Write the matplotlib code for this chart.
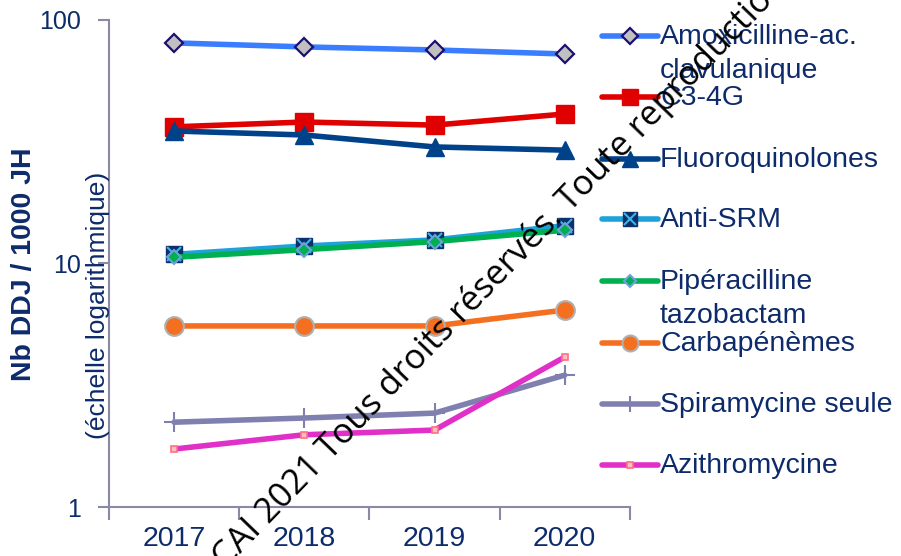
import matplotlib
matplotlib.use("Agg")
import matplotlib.pyplot as plt
from matplotlib.lines import Line2D
import numpy as np

years = ["2017", "2018", "2019", "2020"]
amoxi = [80.5, 77.5, 75.3, 72.5]
c34g = [36.4, 38.1, 37.0, 41.1]
fluoro = [35.0, 33.7, 30.1, 29.2]
anti_srm = [10.9, 11.8, 12.5, 14.3]
pip_tazo = [10.6, 11.4, 12.3, 13.7]
carba = [5.54, 5.54, 5.54, 6.44]
spira = [2.23, 2.32, 2.43, 3.48]
azithro = [1.73, 1.98, 2.07, 4.13]

labels = ["Amoxicilline-ac.\nclavulanique", "C3-4G", "Fluoroquinolones", "Anti-SRM",
          "Pipéracilline\ntazobactam", "Carbapénèmes", "Spiramycine seule", "Azithromycine"]
y_ticks = [1, 10, 100]
y_tick_labels = ["1", "10", "100"]

NAVY = "#0d2b6b"
SPINE = "#8a8aa6"

plt.rcParams['font.family'] = ['Liberation Sans', 'DejaVu Sans']

fig = plt.figure(figsize=(9.01, 5.56), dpi=100)
ax = fig.add_axes([0.121, 0.0881, 0.578, 0.876])

x = np.arange(len(years))
LW = 4.0
styles = [
    dict(color="#3a7dff", marker="D", ms=9, mfc="#c0c0c0", mec="#1c0f73", mew=1.6),
    dict(color="#e00000", marker="s", ms=13, mfc="#e00000", mec="#e00000", mew=1),
    dict(color="#00428a", marker="^", ms=13, mfc="#00428a", mec="#00428a", mew=1),
    dict(color="#1ea2da", marker="s", ms=11.5, mfc="#0d2f6b", mec="#0d2f6b", mew=1),
    dict(color="#00b050", marker="D", ms=7.5, mfc="#00b050", mec="#6fa0e0", mew=1.5),
    dict(color="#f47020", marker="o", ms=13.5, mfc="#f47020", mec="#b0b0b0", mew=1.5),
    dict(color="#8080b0", marker="+", ms=14, mfc="#8080b0", mec="#8080b0", mew=1.5),
    dict(color="#e030c8", marker="s", ms=5, mfc="#f8c0c0", mec="#ff7080", mew=1.2),
]
series = [amoxi, c34g, fluoro, anti_srm, pip_tazo, carba, spira, azithro]

for i, (vals, st) in enumerate(zip(series, styles)):
    ax.plot(x, vals, lw=LW, solid_capstyle="round", **st)
    if i == 3:
        ax.plot(x, vals, ls="none", marker="x", ms=10, mec="#3cb4e6", mew=1.5)

ax.set_yscale("log")
ax.set_ylim(1, 100)
ax.set_xlim(-0.5, 3.5)
ax.yaxis.set_major_locator(matplotlib.ticker.FixedLocator(y_ticks))
ax.yaxis.set_minor_locator(matplotlib.ticker.NullLocator())
ax.set_yticklabels(y_tick_labels)
ax.set_xticks(np.arange(-0.5, 4, 1.0))
ax.set_xticklabels([])
ax.set_xticks(x, minor=True)
ax.set_xticklabels(years, minor=True)
ax.tick_params(axis="x", which="major", length=9, width=1.5, color=SPINE, direction="out")
ax.tick_params(axis="x", which="minor", length=0, pad=14, labelsize=20.5, labelcolor=NAVY)
ax.tick_params(axis="y", which="major", length=8, width=1.5, color=SPINE, direction="out",
               pad=12, labelsize=18, labelcolor=NAVY)
for s in ["top", "right"]:
    ax.spines[s].set_visible(False)
for s in ["left", "bottom"]:
    ax.spines[s].set_color(SPINE)
    ax.spines[s].set_linewidth(1.5)

fig.text(24/901, 1-264/556, "Nb DDJ / 1000 JH", rotation=90, ha="center", va="center",
         fontsize=20.5, fontweight="bold", color=NAVY)
fig.text(98/901, 1-305/556, "(échelle logarithmique)", rotation=90, ha="center", va="center",
         fontsize=19, color=NAVY)

# legend (manual, PowerPoint-like spacing)
leg_y = [36, 97, 159, 219, 281, 343, 404, 465]
for i, (lab, st, yy) in enumerate(zip(labels, styles, leg_y)):
    yf = 1 - yy/556
    fig.add_artist(Line2D([602/901, 658/901], [yf, yf], transform=fig.transFigure, lw=LW,
                          color=st["color"], solid_capstyle="round"))
    mk = {k: v for k, v in st.items() if k != "color"}
    mk["ms"] = st["ms"] * 0.85
    fig.add_artist(Line2D([630/901], [yf], transform=fig.transFigure, ls="none", **mk))
    if i == 3:
        fig.add_artist(Line2D([630/901], [yf], transform=fig.transFigure, ls="none",
                              marker="x", ms=8.5, mec="#3cb4e6", mew=1.5))
    fig.text(660/901, yf + 12/556, lab, ha="left", va="top", fontsize=20.5, color=NAVY,
             linespacing=1.42)

# watermark
fig.text(205/901, -34/556, "©CAI 2021 Tous droits réservés. Toute reproduction interdite",
         rotation=46, rotation_mode="anchor", ha="left", va="baseline",
         fontsize=25, color="black", family=["Open Sans", "DejaVu Sans"])

fig.savefig("out.png", dpi=100)
